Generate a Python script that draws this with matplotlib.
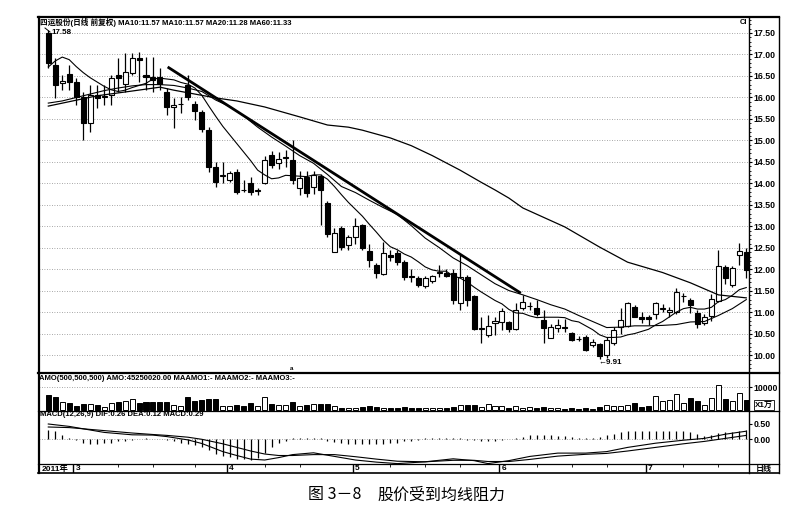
import numpy as np
import matplotlib.pyplot as plt
from matplotlib.lines import Line2D

plt.rcParams['font.family'] = ['Liberation Sans', 'Noto Sans CJK SC', 'DejaVu Sans']

W, H = 807, 523

# daily candles (index 0 = last days of Feb 2011)
opens = [17.50, 16.76, 16.33, 16.55, 16.36, 16.01, 15.41, 16.05, 16.02, 16.06,
         16.52, 16.31, 16.57, 16.92, 16.52, 16.48, 16.48, 16.13, 15.78, 15.84,
         16.29, 15.85, 15.66, 15.24, 14.38, 14.18, 14.08, 14.27, 13.86, 14.01,
         13.82, 14.01, 14.66, 14.47, 14.59, 14.55, 13.90, 14.15, 13.92, 14.17,
         13.55, 12.41, 12.96, 12.57, 12.76, 13.03, 12.43, 12.10, 11.90, 12.33,
         12.38, 12.17, 11.84, 11.80, 11.62, 11.73, 11.93, 11.92, 11.92, 11.22,
         11.83, 11.39, 10.62, 10.48, 10.76, 10.78, 10.78, 10.62, 11.10, 11.14,
         11.10, 10.83, 10.41, 10.64, 10.67, 10.52, 10.39, 10.43, 10.25, 10.27,
         10.00, 10.30, 10.66, 10.69, 11.13, 10.90, 10.90, 10.96, 11.09, 11.00,
         11.00, 11.38, 11.29, 10.99, 10.76, 10.92, 11.27, 12.06, 11.64, 12.34,
         12.41]
highs = [17.58, 16.92, 16.52, 16.76, 16.45, 16.13, 16.29, 16.29, 16.30, 16.52,
         16.92, 17.03, 17.03, 17.06, 16.94, 16.94, 16.69, 16.22, 15.99, 16.00,
         16.52, 15.92, 15.71, 15.31, 14.50, 14.50, 14.30, 14.33, 14.08, 14.15,
         13.90, 14.64, 14.75, 14.73, 14.78, 15.00, 14.29, 14.29, 14.29, 14.22,
         13.60, 12.97, 13.00, 12.80, 13.20, 13.05, 12.60, 12.15, 12.65, 12.45,
         12.45, 12.22, 12.00, 11.85, 11.85, 11.88, 12.10, 12.00, 12.00, 12.34,
         11.87, 11.40, 10.90, 10.94, 10.90, 11.10, 10.80, 11.22, 11.41, 11.24,
         11.30, 11.05, 10.73, 10.85, 10.85, 10.55, 10.45, 10.48, 10.38, 10.30,
         10.44, 10.66, 11.10, 11.25, 11.17, 11.00, 10.95, 11.25, 11.20, 11.13,
         11.57, 11.45, 11.33, 11.05, 10.96, 11.43, 12.45, 12.10, 12.08, 12.62,
         12.50]
lows = [16.69, 15.99, 16.17, 16.17, 15.83, 15.01, 15.20, 15.76, 15.83, 15.83,
        16.13, 16.13, 16.52, 16.36, 16.17, 16.13, 16.17, 15.59, 15.29, 15.64,
        15.94, 15.48, 15.20, 14.27, 13.92, 14.00, 14.04, 13.76, 13.80, 13.73,
        13.73, 13.99, 14.36, 14.34, 14.38, 13.99, 13.74, 13.69, 13.76, 13.03,
        12.75, 12.41, 12.45, 12.45, 12.60, 12.45, 12.05, 11.80, 11.88, 12.20,
        12.10, 11.75, 11.70, 11.60, 11.58, 11.68, 11.83, 11.82, 11.20, 11.06,
        11.15, 10.60, 10.30, 10.43, 10.48, 10.60, 10.55, 10.60, 11.05, 11.05,
        10.91, 10.29, 10.40, 10.55, 10.55, 10.33, 10.33, 10.10, 10.20, 9.91,
        9.95, 10.25, 10.50, 10.66, 10.90, 10.75, 10.72, 10.85, 11.00, 10.90,
        10.96, 11.25, 10.99, 10.64, 10.72, 10.80, 11.25, 11.66, 11.60, 12.10,
        11.80]
closes = [16.80, 16.29, 16.38, 16.36, 16.01, 15.41, 16.06, 15.99, 16.04, 16.45,
          16.45, 16.59, 16.92, 16.88, 16.48, 16.41, 16.31, 15.78, 15.82, 15.85,
          16.01, 15.69, 15.27, 14.38, 14.03, 14.20, 14.24, 13.80, 13.84, 13.80,
          13.84, 14.55, 14.43, 14.57, 14.61, 14.08, 14.13, 13.78, 14.20, 13.85,
          12.83, 12.85, 12.52, 12.76, 13.01, 12.50, 12.22, 11.92, 12.38, 12.28,
          12.17, 11.83, 11.82, 11.64, 11.80, 11.84, 11.95, 11.85, 11.29, 11.83,
          11.29, 10.62, 10.64, 10.69, 10.80, 11.03, 10.62, 11.06, 11.24, 11.16,
          10.97, 10.64, 10.66, 10.72, 10.65, 10.36, 10.38, 10.13, 10.32, 9.98,
          10.37, 10.60, 10.83, 11.22, 10.90, 10.85, 10.85, 11.22, 11.11, 11.06,
          11.48, 11.38, 11.17, 10.73, 10.90, 11.32, 12.08, 11.80, 12.04, 12.43,
          11.99]

ma10 = [16.71, 16.85, 16.94, 16.88, 16.72, 16.58, 16.46, 16.36, 16.26, 16.18,
        16.14, 16.17, 16.23, 16.28, 16.33, 16.43, 16.45, 16.43, 16.41, 16.35,
        16.31, 16.22, 16.05, 15.80, 15.56, 15.33, 15.13, 14.93, 14.73, 14.53,
        14.31, 14.20, 14.11, 14.13, 14.19, 14.18, 14.17, 14.16, 14.20, 14.20,
        14.10, 13.93, 13.74, 13.56, 13.40, 13.24, 13.05, 12.87, 12.68, 12.53,
        12.46, 12.36, 12.29, 12.18, 12.06, 11.99, 11.96, 11.96, 11.85, 11.80,
        11.71, 11.59, 11.48, 11.38, 11.28, 11.20, 11.07, 10.99, 10.98, 10.92,
        10.88, 10.89, 10.89, 10.89, 10.88, 10.81, 10.78, 10.69, 10.60, 10.48,
        10.42, 10.42, 10.43, 10.48, 10.51, 10.56, 10.61, 10.71, 10.79, 10.90,
        11.01, 11.09, 11.12, 11.08, 11.08, 11.12, 11.25, 11.30, 11.40, 11.53,
        11.58]
ma20_x = list(range(0, 101, 2))
ma20 = [15.87, 15.92, 16.00, 16.08, 16.16, 16.22, 16.27, 16.30, 16.30, 16.28,
        16.22, 16.14, 15.94, 15.79, 15.57, 15.31, 15.08, 14.87, 14.65, 14.47,
        14.21, 13.93, 13.79, 13.61, 13.44, 13.28, 13.02, 12.73, 12.51, 12.27,
        12.09, 11.88, 11.67, 11.51, 11.41, 11.30, 11.18, 11.08, 10.93, 10.79,
        10.65, 10.66, 10.69, 10.69, 10.70, 10.72, 10.78, 10.79, 10.93, 11.09,
        11.30]
ma60_x = [0, 7, 12, 16, 18, 24, 27, 31, 36, 40, 43, 45, 49, 52, 55, 59, 62,
          64, 66, 68, 74, 79, 83, 88, 92, 96, 100]
ma60 = [15.80, 16.04, 16.15, 16.24, 16.17, 15.99, 15.92, 15.78, 15.55, 15.36,
        15.31, 15.24, 15.06, 14.88, 14.65, 14.31, 14.03, 13.85, 13.66, 13.43,
        12.99, 12.52, 12.17, 11.93, 11.69, 11.41, 11.34]

trend_x = [17.1, 67.7]
trend_y = [16.71, 11.45]

volume = [6400, 5400, 3200, 2900, 1700, 2400, 2400, 2000, 1300, 2900,
          3500, 3900, 4600, 2900, 3500, 3500, 3200, 3200, 1900, 1500,
          5400, 3900, 4300, 4900, 4600, 1700, 1700, 2000, 1700, 2900,
          1400, 5800, 2500, 2000, 2000, 3500, 1700, 2000, 2500, 2500,
          2500, 1400, 900, 900, 900, 1000, 1700, 1300, 900, 800,
          900, 1300, 800, 900, 700, 900, 700, 900, 1100, 1900,
          2000, 2200, 1300, 2600, 1600, 1600, 900, 1700, 800, 1000,
          900, 1200, 700, 600, 500, 700, 500, 600, 500, 1200,
          1900, 1600, 1600, 1900, 2900, 1300, 1400, 6100, 4000, 4400,
          6800, 2900, 5000, 3900, 2200, 5100, 10900, 4800, 3700, 7300,
          4300]

macd_hist = [0.30, 0.25, 0.12, 0.05, -0.03, -0.12, -0.15, -0.15, -0.13, -0.12,
             -0.08, -0.05, -0.02, 0.01, 0.02, 0.01, -0.01, -0.04, -0.08, -0.12,
             -0.15, -0.20, -0.28, -0.38, -0.50, -0.55, -0.60, -0.65, -0.68, -0.70,
             -0.62, -0.45, -0.25, -0.12, -0.05, 0.02, 0.04, 0.03, 0.05, 0.02,
             -0.05, -0.10, -0.13, -0.15, -0.15, -0.16, -0.17, -0.17, -0.15, -0.13,
             -0.12, -0.08, -0.05, -0.03, 0.02, 0.04, 0.05, 0.04, 0.02, 0.02,
             -0.02, -0.04, -0.06, -0.07, -0.05, -0.02, 0.01, 0.03, 0.08, 0.12,
             0.14, 0.13, 0.12, 0.10, 0.09, 0.06, 0.04, 0.03, 0.04, 0.06,
             0.12, 0.18, 0.24, 0.28, 0.26, 0.25, 0.25, 0.28, 0.27, 0.26,
             0.28, 0.25, 0.22, 0.15, 0.10, 0.12, 0.20, 0.22, 0.24, 0.28,
             0.29]
macd_x = [0, 3, 8, 12, 15, 17, 20, 22, 25, 27, 29, 31, 33, 35, 38, 41, 44, 47,
          50, 54, 58, 61, 63, 66, 69, 73, 77, 80, 83, 87, 91, 94, 97, 100]
dif = [0.50, 0.42, 0.22, 0.14, 0.13, 0.08, -0.03, -0.15, -0.42, -0.55, -0.67,
       -0.70, -0.62, -0.52, -0.46, -0.58, -0.70, -0.77, -0.82, -0.76, -0.66,
       -0.72, -0.82, -0.72, -0.58, -0.47, -0.47, -0.42, -0.28, -0.14, -0.04,
       0.02, 0.16, 0.26]
dea = [0.40, 0.38, 0.28, 0.20, 0.15, 0.12, 0.06, -0.01, -0.16, -0.28, -0.40,
       -0.50, -0.55, -0.55, -0.52, -0.52, -0.59, -0.67, -0.74, -0.76, -0.71,
       -0.71, -0.75, -0.75, -0.68, -0.57, -0.51, -0.48, -0.40, -0.28, -0.16,
       -0.08, 0.02, 0.12]

months = ['3', '4', '5', '6', '7']
month_pos = [4, 26, 44, 65, 86]
week_ticks = [10, 15, 21, 31, 36, 49, 54, 59, 70, 75, 80, 91, 96]

n = len(closes)
idx = np.arange(n)
fills = ['white' if c >= o else 'black' for o, c in zip(opens, closes)]


def box(x0, y0, x1, y1):
    return [x0 / W, 1 - y1 / H, (x1 - x0) / W, (y1 - y0) / H]


def fline(x0, y0, x1, y1, lw=1.0):
    fig.add_artist(Line2D([x0 / W, x1 / W], [1 - y0 / H, 1 - y1 / H],
                          color='black', lw=lw))


def ftext(x, y, s, **kw):
    kw.setdefault('fontsize', 5.5)
    kw.setdefault('fontweight', 'bold')
    kw.setdefault('va', 'center')
    fig.text(x / W, 1 - y / H, s, **kw)


fig = plt.figure(figsize=(W / 100, H / 100), dpi=100)

ax = fig.add_axes(box(39, 17, 749, 373))
axv = fig.add_axes(box(39, 373, 749, 411))
axm = fig.add_axes(box(39, 411, 749, 464))
axd = fig.add_axes(box(39, 464, 749, 473))

for a in (ax, axv, axm, axd):
    a.set_xlim(-1.33, 100.39)
    for s in a.spines.values():
        s.set_visible(False)
    a.set_xticks([])
    a.patch.set_alpha(0)

grid_kw = dict(color='#8a8a8a', lw=0.6, ls=(0, (1, 2)), zorder=0)

# price panel
ax.set_ylim(9.593, 17.872)
for lv in np.arange(10, 17.51, 0.5):
    ax.axhline(lv, **grid_kw)
ax.vlines(idx, lows, highs, color='black', lw=0.9, zorder=2)
bottoms = np.minimum(opens, closes)
heights = np.maximum(np.abs(np.array(closes) - np.array(opens)), 0.015)
ax.bar(idx, heights, 0.72, bottom=bottoms, color=fills, edgecolor='black',
       lw=0.8, zorder=3)
ax.plot(idx, ma10, color='black', lw=0.8, zorder=4)
ax.plot(ma20_x, ma20, color='black', lw=0.8, zorder=4)
ax.plot(ma60_x, ma60, color='black', lw=0.9, zorder=4)
ax.plot(trend_x, trend_y, color='black', lw=2.0, zorder=5,
        solid_capstyle='butt')

ax.yaxis.tick_right()
ax.set_yticks(np.arange(10, 17.51, 0.5))
ax.set_yticks(np.arange(9.7, 17.81, 0.1), minor=True)
ax.set_yticklabels(['%.2f' % v for v in np.arange(10, 17.51, 0.5)])
ax.tick_params(axis='y', which='major', direction='out', length=2.2,
               width=0.8, pad=1.2, labelsize=6.3)
ax.tick_params(axis='y', which='minor', direction='out', length=1.2,
               width=0.6)
for lbl in ax.get_yticklabels():
    lbl.set_fontweight('bold')

# volume panel
axv.set_ylim(-600, 16200)
axv.axhline(10000, **grid_kw)
axv.bar(idx, volume, 0.72, color=fills, edgecolor='black', lw=0.7, zorder=3)
axv.yaxis.tick_right()
axv.set_yticks([10000])
axv.set_yticklabels(['10000'])
axv.tick_params(axis='y', direction='out', length=2.2, width=0.8, pad=1.2,
                labelsize=6.3)
for lbl in axv.get_yticklabels():
    lbl.set_fontweight('bold')

# macd panel
axm.set_ylim(-0.833, 0.933)
axm.axhline(0, **grid_kw)
axm.vlines(idx, 0, macd_hist, color='black', lw=0.9, zorder=3)
axm.plot(macd_x, dif, color='black', lw=0.8, zorder=4)
axm.plot(macd_x, dea, color='black', lw=0.8, zorder=4)
axm.yaxis.tick_right()
axm.set_yticks([0, 0.5])
axm.set_yticklabels(['0.00', '0.50'])
axm.tick_params(axis='y', direction='out', length=2.2, width=0.8, pad=1.2,
                labelsize=6.3)
for lbl in axm.get_yticklabels():
    lbl.set_fontweight('bold')

# date row
axd.set_ylim(0, 1)
axd.set_yticks([])
for p, m in zip(month_pos, months):
    axd.vlines(p - 0.4, 0, 1, color='black', lw=1.0)
    axd.text(p - 0.1, 0.45, m, fontsize=6, fontweight='bold', va='center')
axd.vlines(week_ticks, 0.7, 1, color='black', lw=0.6)
axd.text(-1.0, 0.45, '2011年', fontsize=6, fontweight='bold', va='center')

# frame
fline(38, 17, 779, 17, 1.6)
fline(38.5, 17, 38.5, 473, 1.6)
fline(749, 17, 749, 473, 1.0)
fline(778.5, 17, 778.5, 473, 1.0)
fline(38, 373, 779, 373, 1.6)
fline(38, 411, 779, 411, 0.9)
fline(38, 464, 779, 464, 0.9)
fline(38, 473, 779, 473, 1.2)

# labels
ftext(40, 22.5, '四运股份(日线 前复权) MA10:11.57 MA10:11.57 MA20:11.28 MA60:11.33')
ftext(39, 378, 'AMO(500,500,500) AMO:45250020.00 MAAMO1:- MAAMO2:- MAAMO3:-')
ftext(40, 415, 'MACD(12,26,9) DIF:0.26 DEA:0.12 MACD:0.29')
ftext(51, 32, '17.58', fontsize=5.8)
fline(45, 28, 50, 32, 0.7)
ftext(598, 362, '←9.91', fontsize=5.8)
ftext(292, 368, 'a', fontsize=4.5, ha='center')
ftext(744, 22, 'Cl', fontsize=5.5, ha='center')
ftext(764, 405, 'X1万', fontsize=5.8, ha='center',
      bbox=dict(boxstyle='square,pad=0.15', fc='white', ec='black', lw=0.6))
ftext(764, 468.5, '日线', fontsize=5.8, ha='center')

ftext(308, 495, '图 3－8', fontsize=11.5, fontweight='normal',
      family=['Noto Sans CJK SC'])
ftext(377, 495, '股价受到均线阻力', fontsize=11.5, fontweight='normal',
      family=['Noto Sans CJK SC'])

fig.savefig('out.png', dpi=100)
